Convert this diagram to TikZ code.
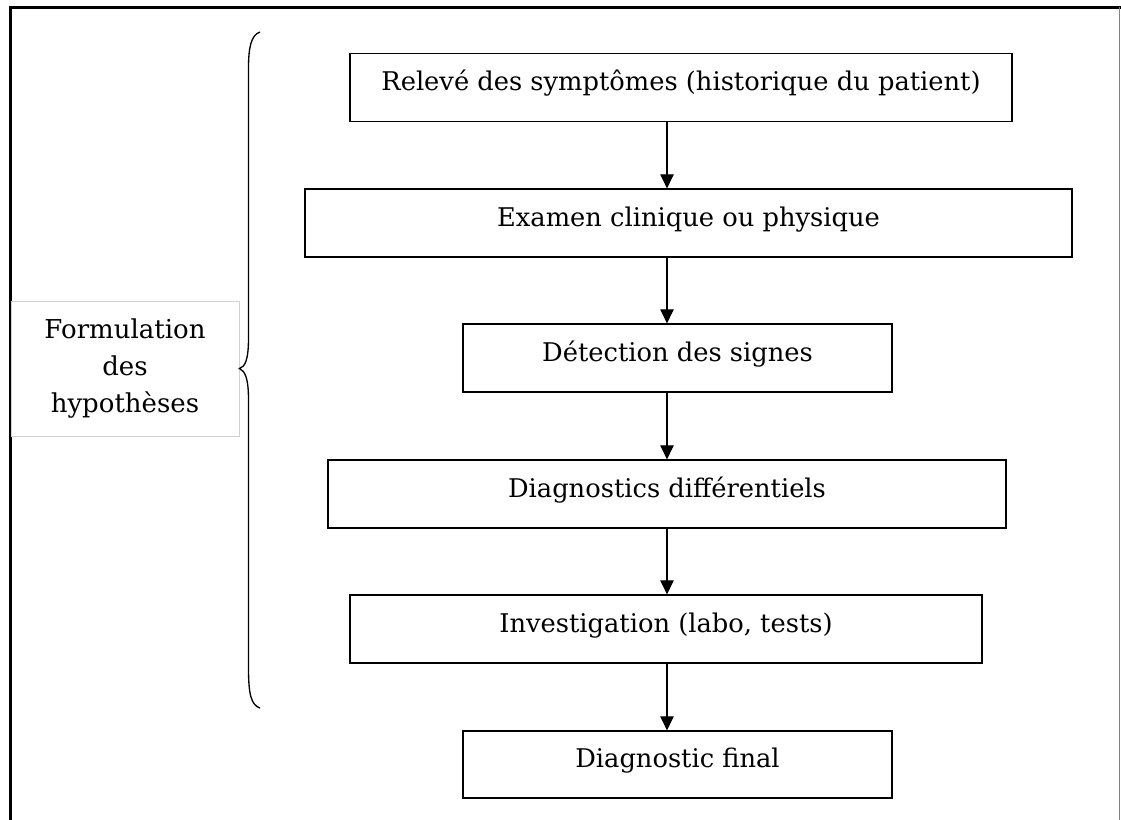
\documentclass[tikz,border=0pt]{standalone}
\usepackage{fontspec}
\setmainfont{DejaVu Serif}
\usetikzlibrary{arrows.meta}

\begin{document}
\begin{tikzpicture}[x=0.75pt, y=-0.75pt,
	stepbox/.style={draw, line width=0.9pt, minimum height=51pt, inner sep=0pt,
		font=\fontsize{19.3}{22}\selectfont, text height=14pt, text depth=9pt},
	flow/.style={-{Triangle[width=10pt,length=10.5pt]}, line width=0.8pt}]
	\useasboundingbox (0,0) rectangle (1121,820);
	\draw[line width=2.4pt] (10.5,820) -- (10.5,7.5) -- (1121,7.5);
	\draw[gray, line width=0.8pt] (1119.5,7.5) -- (1119.5,820);
	\node[stepbox, minimum width=496.5pt] (B1) at (681,87.5) {Relevé des symptômes (historique du patient)};
	\node[stepbox, minimum width=575.25pt] (B2) at (688.5,223) {Examen clinique ou physique};
	\node[stepbox, minimum width=321.75pt] (B3) at (677.5,358) {Détection des signes};
	\node[stepbox, minimum width=508.5pt] (B4) at (667,494) {Diagnostics différentiels};
	\node[stepbox, minimum width=474pt] (B5) at (666,629) {Investigation (labo, tests)};
	\node[stepbox, minimum width=321.75pt, minimum height=50.25pt] (B6) at (677.5,764.5) {Diagnostic final};
	\node[draw=gray!35, line width=0.6pt, minimum width=171pt, minimum height=101.25pt, align=center,
		font=\fontsize{19.5}{27.75}\selectfont] (H) at (125,368.5) {Formulation\\des\\hypothèses};
	\coordinate (X) at (667,0);
	\draw[flow] (X |- B1.south) -- (X |- B2.north);
	\draw[flow] (X |- B2.south) -- (X |- B3.north);
	\draw[flow] (X |- B3.south) -- (X |- B4.north);
	\draw[flow] (X |- B4.south) -- (X |- B5.north);
	\draw[flow] (X |- B5.south) -- (X |- B6.north);
	\draw[line width=1pt] (260,32) .. controls (251,35) and (248.5,48) .. (248.5,68) -- (248.5,338)
		.. controls (248.5,360) and (245,367) .. (H.east) .. controls (245,371) and (248.5,378) .. (248.5,400)
		-- (248.5,668) .. controls (248.5,694) and (251,705) .. (260,708);
\end{tikzpicture}
\end{document}
